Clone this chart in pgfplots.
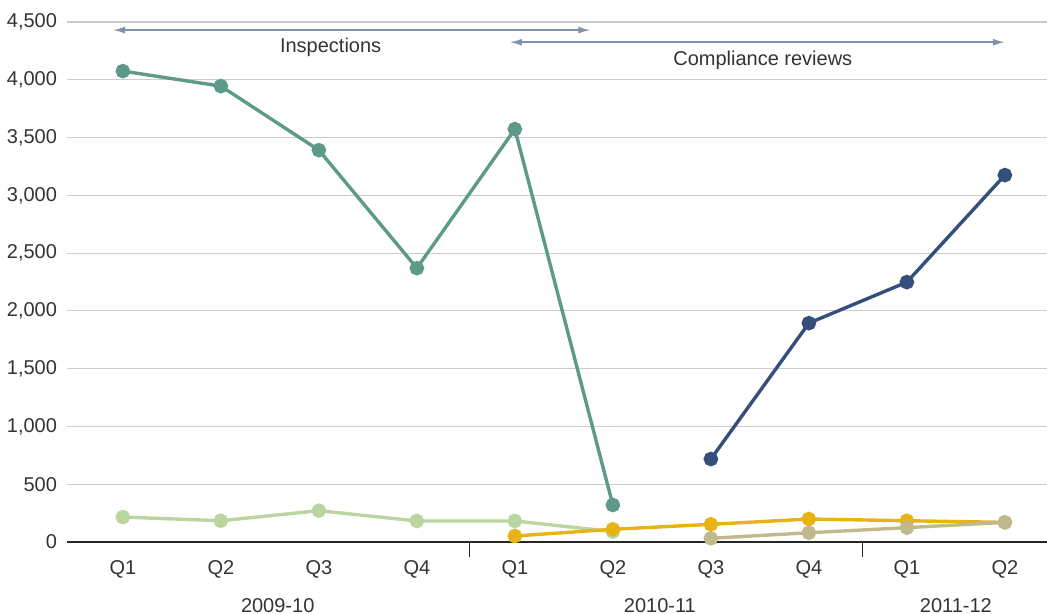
\documentclass[border=0pt]{standalone}
\usepackage{fontspec}
\setmainfont{Liberation Sans}
\usepackage{pgfplots}
\pgfplotsset{compat=1.18}
\usetikzlibrary{arrows.meta}
\definecolor{cteal}{HTML}{5E9A8A}
\definecolor{clgreen}{HTML}{B9D5A0}
\definecolor{cyellow}{HTML}{E8B415}
\definecolor{ctan}{HTML}{C2B88E}
\definecolor{cnavy}{HTML}{344F7C}
\definecolor{carrow}{HTML}{7F93AB}
\definecolor{ctext}{HTML}{333333}
\begin{document}
\begin{tikzpicture}
\useasboundingbox (-33.5pt,-36pt) rectangle (490pt,271pt);
\begin{axis}[
  at={(0,0)}, anchor=south west,
  scale only axis, width=490pt, height=260pt,
  xmin=-0.57, xmax=9.43, ymin=0, ymax=4500,
  axis x line*=bottom, axis y line*=left,
  y axis line style={draw=none},
  xtick={0,...,9},
  xticklabels={Q1,Q2,Q3,Q4,Q1,Q2,Q3,Q4,Q1,Q2},
  major tick length=0pt,
  ytick={0,500,...,4500},
  ymajorgrids, grid style={gray!40, line width=0.6pt},
  x axis line style={black!85, line width=0.6pt},
  scaled y ticks=false,
  /pgf/number format/assume math mode=true,
  /pgf/number format/1000 sep={,},
  tick label style={font=\fontsize{10}{12}\selectfont, text=ctext},
  xticklabel style={anchor=base, yshift=-16pt},
  yticklabel style={anchor=east, xshift=-1.5pt},
  clip=false,
  every axis plot/.append style={line width=1.7pt, mark=*, mark size=2.8pt},
]
\addplot[clgreen, mark options={fill=clgreen, draw=clgreen}] coordinates {(0,216) (1,184) (2,271) (3,182) (4,182) (5,90)};
\addplot[cteal, mark options={fill=cteal, draw=cteal}] coordinates {(0,4075) (1,3945) (2,3391) (3,2370) (4,3573) (5,320)};
\addplot[cyellow, mark options={fill=cyellow, draw=cyellow}] coordinates {(4,52) (5,110) (6,153) (7,199) (8,184) (9,170)};
\addplot[ctan, mark options={fill=ctan, draw=ctan}] coordinates {(6,32) (7,80) (8,124) (9,170)};
\addplot[cnavy, mark options={fill=cnavy, draw=cnavy}] coordinates {(6,718) (7,1894) (8,2249) (9,3175)};
\draw[black!85, line width=0.6pt] (axis cs:3.54,0) -- ([yshift=-7.5pt]axis cs:3.54,0);
\draw[black!85, line width=0.6pt] (axis cs:7.55,0) -- ([yshift=-7.5pt]axis cs:7.55,0);
\draw[carrow, line width=0.8pt, {Latex[length=6pt,width=3.5pt]}-{Latex[length=6pt,width=3.5pt]}] (axis cs:-0.1,4430) -- (axis cs:4.77,4430);
\draw[carrow, line width=0.8pt, {Latex[length=6pt,width=3.5pt]}-{Latex[length=6pt,width=3.5pt]}] (axis cs:3.95,4325) -- (axis cs:9.0,4325);
\node[font=\fontsize{10}{12}\selectfont, text=ctext] at (axis cs:2.12,4282) {Inspections};
\node[font=\fontsize{10}{12}\selectfont, text=ctext] at (axis cs:6.53,4170) {Compliance reviews};
\node[font=\fontsize{10}{12}\selectfont, text=ctext, anchor=base] at ([yshift=-35pt]axis cs:1.58,0) {2009-10};
\node[font=\fontsize{10}{12}\selectfont, text=ctext, anchor=base] at ([yshift=-35pt]axis cs:5.48,0) {2010-11};
\node[font=\fontsize{10}{12}\selectfont, text=ctext, anchor=base] at ([yshift=-35pt]axis cs:8.5,0) {2011-12};
\end{axis}
\end{tikzpicture}
\end{document}
